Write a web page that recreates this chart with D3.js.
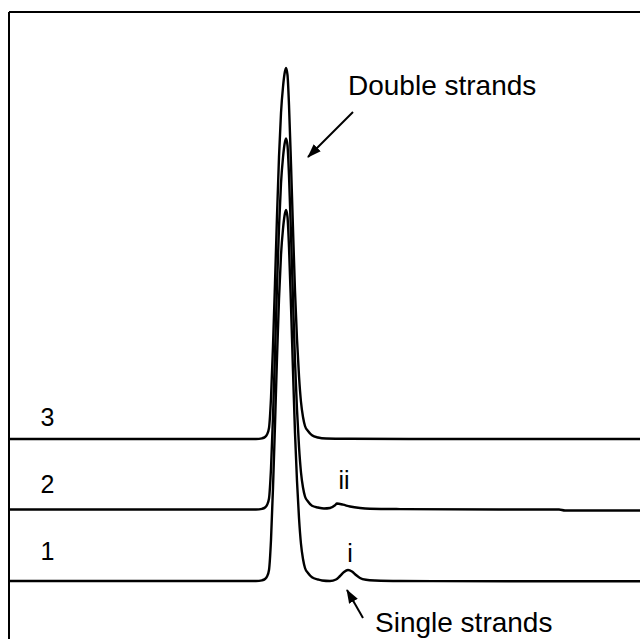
<!DOCTYPE html>
<html>
<head>
<meta charset="utf-8">
<script src="https://cdn.jsdelivr.net/npm/d3@7"></script>
<style>
  body { margin: 0; background: #fff; }
  svg { display: block; font-family: 'Liberation Sans', Arial, sans-serif; }
</style>
</head>
<body>
<div id="chart"></div>
<script>
// retention time (min) vs detector signal, traces stacked by offset
const trace1 = [
  [0, 0], [10, 0], [12.35, 0], [12.65, 0.07], [12.8, 0.2], [12.9, 0.45], [13.0, 1.1],
  [13.1, 4.1], [13.2, 9.3], [13.3, 15.6], [13.4, 22.3], [13.5, 28.2], [13.6, 32.6],
  [13.7, 35.2], [13.775, 36.5], [13.85, 37.1], [13.925, 36.4], [14.0, 33.4], [14.1, 27.5],
  [14.2, 21.0], [14.3, 14.8], [14.4, 10.0], [14.5, 6.3], [14.6, 3.7], [14.7, 2.2],
  [14.8, 1.3], [14.95, 0.8], [15.15, 0.37], [15.45, 0.15], [15.65, 0.05], [16.05, 0.0],
  [16.35, 0.15], [16.55, 0.5], [16.75, 0.9], [16.95, 1.1], [17.15, 0.95], [17.35, 0.6],
  [17.55, 0.3], [17.85, 0.12], [18.3, 0.05], [19.55, 0.0], [25, -0.03], [31.55, -0.03]
]
const trace2 = [
  [0, 0], [10, 0], [12.35, 0], [12.65, 0.07], [12.8, 0.2], [12.9, 0.45], [13.0, 1.1],
  [13.1, 4.1], [13.2, 9.3], [13.3, 15.6], [13.4, 22.3], [13.5, 28.2], [13.6, 32.6],
  [13.7, 35.2], [13.775, 36.5], [13.85, 37.1], [13.925, 36.4], [14.0, 33.4], [14.1, 27.5],
  [14.2, 21.0], [14.3, 14.8], [14.4, 10.0], [14.5, 6.3], [14.6, 3.7], [14.7, 2.2],
  [14.8, 1.3], [14.95, 0.8], [15.15, 0.37], [15.45, 0.2], [15.75, 0.1], [16.05, 0.15],
  [16.3, 0.42], [16.4, 0.6], [16.7, 0.48], [17.05, 0.3], [17.55, 0.15], [18.05, 0.08],
  [19.55, 0.04], [24.5, 0.0], [27.5, 0.0], [27.8, -0.1], [31.55, -0.1]
]
const trace3 = [
  [0, 0], [10, 0], [12.35, 0], [12.65, 0.07], [12.8, 0.2], [12.9, 0.45], [13.0, 1.1],
  [13.1, 4.1], [13.2, 9.3], [13.3, 15.6], [13.4, 22.3], [13.5, 28.2], [13.6, 32.6],
  [13.7, 35.2], [13.775, 36.5], [13.85, 37.1], [13.925, 36.4], [14.0, 33.4], [14.1, 27.5],
  [14.2, 21.0], [14.3, 14.8], [14.4, 10.0], [14.5, 6.3], [14.6, 3.7], [14.7, 2.2],
  [14.8, 1.3], [14.95, 0.8], [15.15, 0.37], [15.45, 0.15], [15.85, 0.05], [17, 0.02],
  [20, 0.0], [31.55, 0.0]
]
const offsets = [0, 7.15, 14.2]
const traceNames = ['1', '2', '3']
const nameLevels = [2.1, 8.8, 15.5]
const peakMarks = [['i', 17.05, 1.9], ['ii', 16.75, 9.2]]

const width = 640,
  height = 639

const svg = d3.select('#chart').append('svg').attr('width', width).attr('height', height)
svg.append('rect').attr('width', width).attr('height', height).attr('fill', '#fff')

const x = d3.scaleLinear().domain([0, 31.55]).range([9, 640])
const y = d3.scaleLinear().domain([0, 57]).range([581, 11])

// arrowhead
svg
  .append('defs')
  .append('marker')
  .attr('id', 'head')
  .attr('markerUnits', 'userSpaceOnUse')
  .attr('viewBox', '0 0 14 10')
  .attr('refX', 13)
  .attr('refY', 5)
  .attr('markerWidth', 14)
  .attr('markerHeight', 10)
  .attr('orient', 'auto')
  .append('path')
  .attr('d', 'M0,0L14,5L0,10Z')
  .attr('fill', '#000')

// frame (top and left only, rest is cut off)
svg.append('line').attr('x1', 9).attr('x2', width).attr('y1', 12).attr('y2', 12).attr('stroke', '#000').attr('stroke-width', 2)
svg.append('line').attr('x1', 9).attr('x2', 9).attr('y1', 12).attr('y2', height).attr('stroke', '#000').attr('stroke-width', 2)

const traces = [trace1, trace2, trace3]
traces.forEach((tr, i) => {
  const line = d3
    .line()
    .x(d => x(d[0]))
    .y(d => y(d[1] + offsets[i]))
    .curve(d3.curveMonotoneX)
  svg.append('path').attr('d', line(tr)).attr('fill', 'none').attr('stroke', '#000').attr('stroke-width', 2.4)
})

// trace numbers
svg
  .selectAll('text.name')
  .data(traceNames)
  .enter()
  .append('text')
  .attr('class', 'name')
  .attr('x', x(1.925))
  .attr('y', (d, i) => y(nameLevels[i]))
  .attr('text-anchor', 'middle')
  .attr('font-size', 25)
  .text(d => d)

svg
  .selectAll('text.peak')
  .data(peakMarks)
  .enter()
  .append('text')
  .attr('class', 'peak')
  .attr('x', d => x(d[1]))
  .attr('y', d => y(d[2]))
  .attr('text-anchor', 'middle')
  .attr('font-size', 25)
  .text(d => d[0])

// annotations
svg.append('text').attr('x', x(16.95)).attr('y', y(48.6)).attr('font-size', 28).text('Double strands')
svg
  .append('line')
  .attr('x1', x(17.2))
  .attr('y1', y(46.9))
  .attr('x2', x(14.95))
  .attr('y2', y(42.4))
  .attr('stroke', '#000')
  .attr('stroke-width', 2)
  .attr('marker-end', 'url(#head)')

svg.append('text').attr('x', x(18.3)).attr('y', y(-5.1)).attr('font-size', 28).text('Single strands')
svg
  .append('line')
  .attr('x1', x(17.7))
  .attr('y1', y(-3.7))
  .attr('x2', x(16.9))
  .attr('y2', y(-0.9))
  .attr('stroke', '#000')
  .attr('stroke-width', 2)
  .attr('marker-end', 'url(#head)')
</script>
</body>
</html>
